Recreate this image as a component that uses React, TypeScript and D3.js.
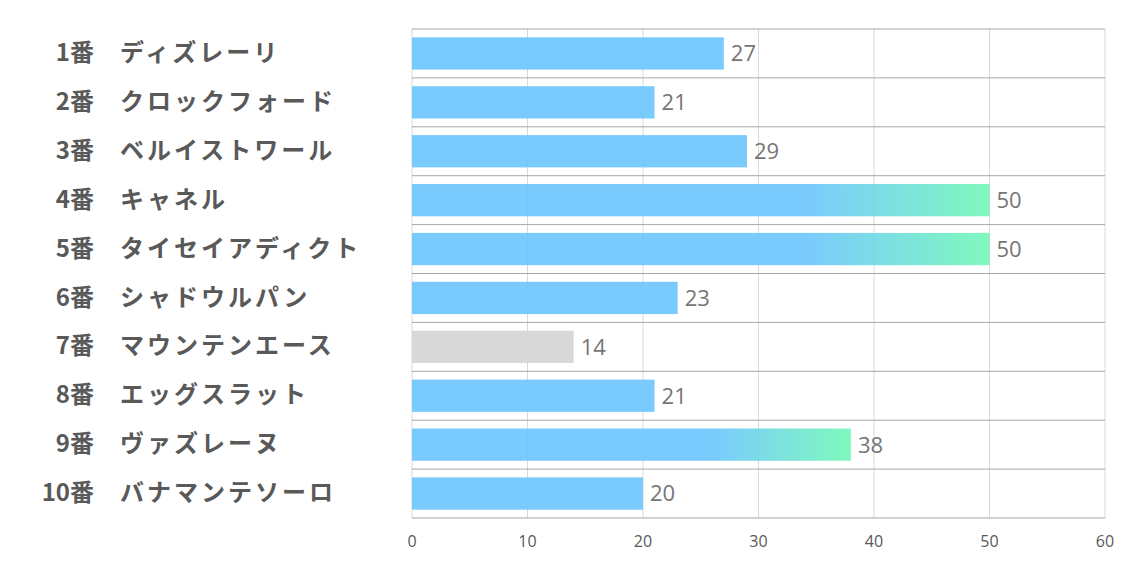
import React from "react";
import * as d3 from "d3";

const numbers = ["1番", "2番", "3番", "4番", "5番", "6番", "7番", "8番", "9番", "10番"];
const names = ["ディズレーリ", "クロックフォード", "ベルイストワール", "キャネル", "タイセイアディクト", "シャドウルパン", "マウンテンエース", "エッグスラット", "ヴァズレーヌ", "バナマンテソーロ"];
const values = [27, 21, 29, 50, 50, 23, 14, 21, 38, 20];
const kinds = ["blue", "blue", "blue", "grad", "grad", "blue", "gray", "blue", "grad", "blue"];
const ticks = [0, 10, 20, 30, 40, 50, 60];

const W = 1134;
const H = 567;
const left = 412;
const right = 1105;
const top = 29;
const bottom = 518;

export default function App() {
  const x = d3.scaleLinear().domain([0, 60]).range([left, right]);
  const y = d3.scaleBand<number>().domain(d3.range(values.length)).range([top, bottom]).paddingInner(0.34).paddingOuter(0.17);
  const step = y.step();
  const boundaries = d3.range(values.length + 1).map((i) => top + i * step);

  return (
    <svg width={W} height={H} style={{ position: "absolute", left: 0, top: 0, background: "#fff" }}>
      <defs>
        <linearGradient id="g" x1="0" x2="1" y1="0" y2="0">
          <stop offset="0" stopColor="#6BC5FD" />
          <stop offset="0.68" stopColor="#6BC5FD" />
          <stop offset="1" stopColor="#71F8B7" />
        </linearGradient>
      </defs>
      <rect x={0} y={0} width={W} height={H} fill="#fff" />
      {ticks.map((t) => (
        <line key={"v" + t} x1={x(t)} x2={x(t)} y1={top} y2={bottom} stroke="#D9D9D9" strokeWidth={1} />
      ))}
      {boundaries.map((b, i) => (
        <line key={"h" + i} x1={left} x2={right} y1={b} y2={b} stroke="#A6A6A6" strokeWidth={1} />
      ))}
      {values.map((v, i) => {
        const fill = kinds[i] === "grad" ? "url(#g)" : kinds[i] === "gray" ? "#D5D5D5" : "#6BC5FD";
        return (
          <rect key={"b" + i} x={x(0)} y={y(i)} width={x(v) - x(0)} height={y.bandwidth()} fill={fill} opacity={0.9} />
        );
      })}
      {values.map((v, i) => (
        <text key={"l" + i} x={x(v) + 7} y={(y(i) as number) + y.bandwidth() / 2} dy="0.36em" fontFamily="'Open Sans', sans-serif" fontSize={22} fill="#757575">
          {v}
        </text>
      ))}
      {ticks.map((t) => (
        <text key={"t" + t} x={x(t)} y={541} dy="0.36em" textAnchor="middle" fontFamily="'Open Sans', sans-serif" fontSize={16} fill="#595959">
          {t}
        </text>
      ))}
      {numbers.map((n, i) => (
        <text key={"n" + i} x={94} y={top + (i + 0.5) * step - 1} dy="0.36em" textAnchor="end" fontFamily="'Noto Sans CJK JP', sans-serif" fontWeight="bold" fontSize={24} fill="#595959">
          {n}
        </text>
      ))}
      {names.map((n, i) => (
        <text key={"m" + i} x={120} y={top + (i + 0.5) * step - 1} dy="0.36em" fontFamily="'Noto Sans CJK JP', sans-serif" fontWeight="bold" fontSize={24} letterSpacing={3} fill="#595959">
          {n}
        </text>
      ))}
    </svg>
  );
}
